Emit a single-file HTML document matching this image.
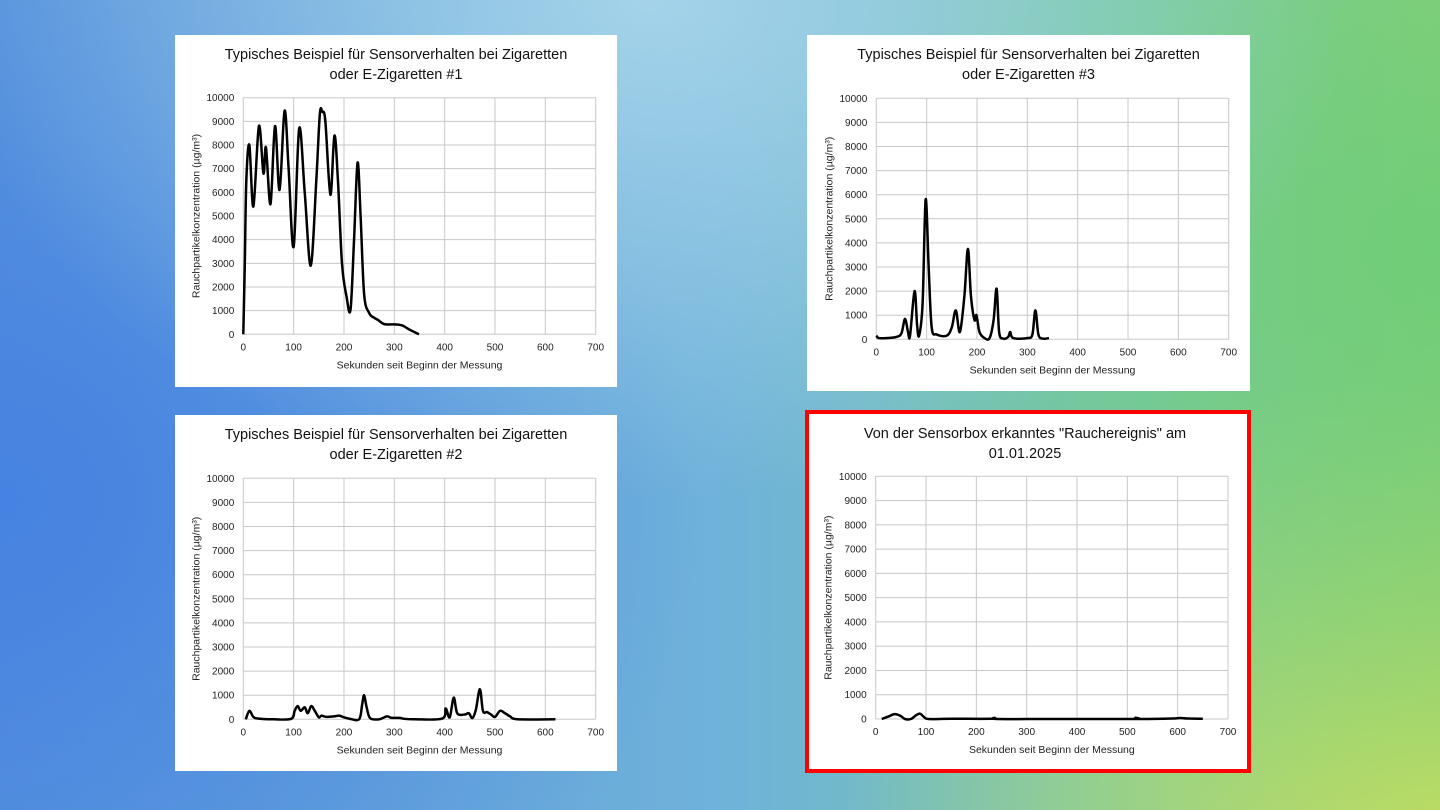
<!DOCTYPE html>
<html><head><meta charset="utf-8">
<style>
html,body{margin:0;padding:0;width:1440px;height:810px;overflow:hidden}
body{background:
radial-gradient(ellipse 700px 500px at 650px 0px, rgba(170,215,235,0.9), rgba(170,215,235,0) 100%),
radial-gradient(ellipse 600px 600px at 1440px 250px, rgba(110,205,120,0.95), rgba(110,205,120,0) 100%),
radial-gradient(ellipse 600px 450px at 1440px 810px, rgba(190,220,100,1), rgba(190,220,100,0) 100%),
radial-gradient(ellipse 700px 600px at 0px 500px, rgba(70,130,225,1), rgba(70,130,225,0) 100%),
linear-gradient(90deg,#5a95dc 0%,#6fb2da 50%,#78c8a8 80%,#8fd07a 100%);
font-family:"Liberation Sans",sans-serif}
svg{position:absolute;left:0;top:0}
</style></head>
<body>
<svg id="s" width="1440" height="810"></svg>
<script>
const xTicks=[0,100,200,300,400,500,600,700];
const yTicks=[0,1000,2000,3000,4000,5000,6000,7000,8000,9000,10000];
const t1=[0,3,6,12,20,31,40,45,54,63,72,82,90,100,111,122,134,145,152,157,163,173,181,188,196,205,213,220,227,233,240,250,260,268,280,300,315,330,349];
const v1=[0,3000,6500,8000,5400,8800,6800,7900,5500,8800,6100,9450,7000,3700,8700,6000,2900,6500,9300,9400,9000,5900,8400,6500,3000,1600,1050,4000,7250,5000,1700,900,700,600,430,420,380,200,0];
const t2=[5,12,20,30,60,95,102,108,114,122,128,135,142,150,155,165,180,190,198,210,230,236,240,245,252,270,285,295,310,320,340,395,402,410,418,425,440,448,455,462,470,476,484,492,500,510,520,530,545,620];
const v2=[0,350,100,30,0,20,350,550,350,500,250,550,350,80,150,100,120,150,100,30,0,600,1000,500,50,0,120,60,60,20,0,30,450,80,900,250,200,250,50,400,1250,350,300,200,100,350,250,120,0,0];
const t3=[0,5,20,40,50,57,63,67,76,81,85,92,98,104,110,120,140,150,158,166,175,182,188,195,199,205,215,225,233,239,244,252,262,266,272,300,310,316,322,330,343];
const v3=[150,50,50,100,250,850,300,150,2000,600,150,1500,5800,3000,500,200,150,500,1200,300,1800,3750,1800,800,1000,300,50,50,800,2100,300,30,100,300,50,50,200,1200,200,30,50];
const t4=[12,25,38,50,58,70,80,88,96,105,150,230,236,242,350,510,516,522,590,605,620,650];
const v4=[0,100,200,120,0,0,150,220,80,0,10,10,50,0,0,0,50,0,20,40,20,10];
const titles=[["Typisches Beispiel für Sensorverhalten bei Zigaretten","oder E-Zigaretten #1"],["Typisches Beispiel für Sensorverhalten bei Zigaretten","oder E-Zigaretten #2"],["Typisches Beispiel für Sensorverhalten bei Zigaretten","oder E-Zigaretten #3"],["Von der Sensorbox erkanntes \"Rauchereignis\" am","01.01.2025"]];
const panels=[
 {box:[175,35,442,352],x0:243.3,x1:595.7,y0:334.3,y1:97.7,ty:54,t:t1,v:v1,red:false,name:"chart-1"},
 {box:[175,415,442,356],x0:243.3,x1:595.7,y0:719.3,y1:478.3,ty:434,t:t2,v:v2,red:false,name:"chart-2"},
 {box:[807,35,443,356],x0:876.3,x1:1228.7,y0:339.3,y1:98.3,ty:54,t:t3,v:v3,red:false,name:"chart-3"},
 {box:[805,410,446,363],x0:875.7,x1:1228,y0:719,y1:476.3,ty:433,t:t4,v:v4,red:true,name:"chart-4-sensorbox-event"}
];
const NS="http://www.w3.org/2000/svg";
const svg=document.getElementById('s');
function mk(tag,attrs,parent){const e=document.createElementNS(NS,tag);for(const k in attrs)e.setAttribute(k,attrs[k]);parent.appendChild(e);return e;}
panels.forEach((p,i)=>{
 const g=mk('g',{},svg);
 
 
 const [bx,by,bw,bh]=p.box;
 const bg=mk('rect',p.red?{x:bx+2,y:by+2,width:bw-4,height:bh-4,fill:'#fff',stroke:'#f00','stroke-width':4}:{x:bx,y:by,width:bw,height:bh,fill:'#fff'},g);
 
 
 const X=t=>p.x0+(p.x1-p.x0)*t/700;
 const Y=v=>p.y0+(p.y1-p.y0)*v/10000;
 titles[i].forEach((ln,k)=>{
  const tt=mk('text',{x:(bx+bw/2)+(i==3?-3:0),y:p.ty+5+k*20,'text-anchor':'middle','font-size':14.5,fill:'#111'},g);
  tt.textContent=ln;
  
  
 });
 xTicks.forEach(t=>{
  const l=mk('line',{x1:X(t),x2:X(t),y1:p.y0,y2:p.y1,stroke:'#c8c8c8','stroke-width':1},g);
  
  
  const tx=mk('text',{x:X(t),y:p.y0+16,'text-anchor':'middle','font-size':10,fill:'#222'},g);
  tx.textContent=t;
  
  
 });
 yTicks.forEach(v=>{
  const l=mk('line',{x1:p.x0,x2:p.x1,y1:Y(v),y2:Y(v),stroke:'#c8c8c8','stroke-width':1},g);
  
  
  const tx=mk('text',{x:p.x0-9,y:Y(v)+3.5,'text-anchor':'end','font-size':10,fill:'#222'},g);
  tx.textContent=v;
  
  
 });
 const xt=mk('text',{x:(p.x0+p.x1)/2,y:p.y0+34,'text-anchor':'middle','font-size':10.5,fill:'#222'},g);
 xt.textContent='Sekunden seit Beginn der Messung';
 
 
 const yc=(p.y0+p.y1)/2;
 const yt=mk('text',{x:0,y:0,'text-anchor':'middle','font-size':10.5,fill:'#222',transform:`translate(${p.x0-44},${yc}) rotate(-90)`},g);
 yt.textContent='Rauchpartikelkonzentration (µg/m³)';
 
 
 const pts=p.t.map((t,j)=>[X(t),Y(p.v[j])]);
 let d=`M${pts[0][0]},${pts[0][1]}`;
 for(let j=0;j<pts.length-1;j++){
  const a=pts[j-1]||pts[j],b=pts[j],c=pts[j+1],e=pts[j+2]||c;
  const c1=[b[0]+(c[0]-a[0])/6,b[1]+(c[1]-a[1])/6],c2=[c[0]-(e[0]-b[0])/6,c[1]-(e[1]-b[1])/6];
  d+=` C${c1[0]},${c1[1]} ${c2[0]},${c2[1]} ${c[0]},${c[1]}`;
 }
 const path=mk('path',{d:d,fill:'none',stroke:'#000','stroke-width':2.5,'stroke-linejoin':'round'},g);
 
 
});
</script>
</body></html>
